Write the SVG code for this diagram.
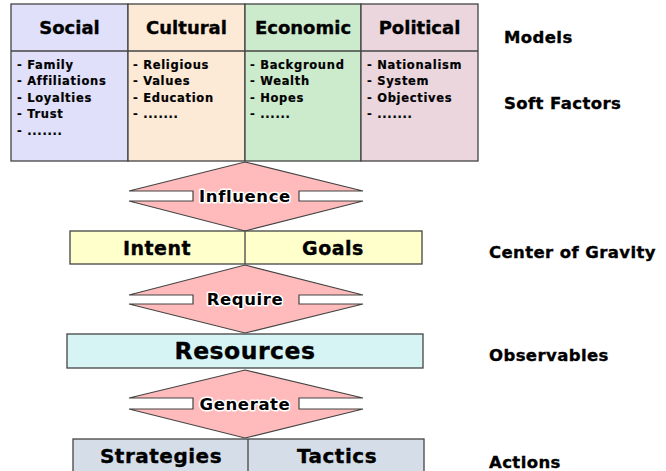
<svg xmlns="http://www.w3.org/2000/svg" width="666" height="471" viewBox="0 0 666 471">
<style>
text{font-family:"DejaVu Sans","Liberation Sans",Arial,sans-serif;font-weight:bold;fill:#000;stroke:#000;stroke-width:0.35}
.hd{font-size:18px;text-anchor:middle}
.li{font-size:11.5px;letter-spacing:0.7px;stroke-width:0.2}
.lab{font-size:16.5px;letter-spacing:0.4px}
.cell{stroke:#444;stroke-width:1.3}
.arrow{fill:#FFBBBB;stroke:#444;stroke-width:1.2;stroke-linejoin:miter}
.at{font-size:16.5px;letter-spacing:0.6px;text-anchor:middle;stroke:#fff;stroke-width:3;paint-order:stroke;stroke-linejoin:round}
.bx{font-size:19px;letter-spacing:0.5px;text-anchor:middle}
</style>
<rect width="666" height="471" fill="#fff"/>
<g id="models">
<g id="social">
<rect class="cell" x="11" y="4" width="117" height="157" fill="#E0E0FA"/>
<line class="cell" x1="11" y1="51" x2="128" y2="51"/>
<text class="hd" x="69.5" y="34">Social</text>
<text class="li" x="17" y="69">- Family</text>
<text class="li" x="17" y="85">-  Affiliations</text>
<text class="li" x="17" y="102">-  Loyalties</text>
<text class="li" x="17" y="118">-  Trust</text>
<text class="li" x="17" y="135">-  .......</text>
</g>
<g id="cultural">
<rect class="cell" x="128" y="4" width="117" height="157" fill="#FCE9D6"/>
<line class="cell" x1="128" y1="51" x2="245" y2="51"/>
<text class="hd" x="186.5" y="34">Cultural</text>
<text class="li" x="133" y="69">-  Religious</text>
<text class="li" x="133" y="85">-  Values</text>
<text class="li" x="133" y="102">-  Education</text>
<text class="li" x="133" y="118">-  .......</text>
</g>
<g id="economic">
<rect class="cell" x="245" y="4" width="116" height="157" fill="#CCEACC"/>
<line class="cell" x1="245" y1="51" x2="361" y2="51"/>
<text class="hd" x="303" y="34">Economic</text>
<text class="li" x="250" y="69">-  Background</text>
<text class="li" x="250" y="85">-  Wealth</text>
<text class="li" x="250" y="102">-  Hopes</text>
<text class="li" x="250" y="118">-  ......</text>
</g>
<g id="political">
<rect class="cell" x="361" y="4" width="117" height="157" fill="#EBD6DE"/>
<line class="cell" x1="361" y1="51" x2="478" y2="51"/>
<text class="hd" x="419.5" y="34">Political</text>
<text class="li" x="367" y="69">-  Nationalism</text>
<text class="li" x="367" y="85">-  System</text>
<text class="li" x="367" y="102">-  Objectives</text>
<text class="li" x="367" y="118">-  .......</text>
</g>
</g>
<g id="connectors">
<path class="arrow" d="M245,162 L363,191 L299,191 L299,201 L363,201 L245,231 L129,201 L193,201 L193,191 L129,191 Z"/>
<text class="at" x="245" y="202">Influence</text>
<path class="arrow" d="M245,265 L363,295 L299,295 L299,304 L363,304 L245,333 L129,304 L193,304 L193,295 L129,295 Z"/>
<text class="at" x="245" y="305">Require</text>
<path class="arrow" d="M245,370 L363,398 L299,398 L299,409 L363,409 L245,438 L129,409 L193,409 L193,398 L129,398 Z"/>
<text class="at" x="245" y="410">Generate</text>
</g>
<g id="intent-goals">
<rect class="cell" x="70" y="231" width="352" height="33" fill="#FFFFCC"/>
<line class="cell" x1="245" y1="231" x2="245" y2="264"/>
<text class="bx" x="157" y="255">Intent</text>
<text class="bx" x="333" y="255">Goals</text>
</g>
<g id="resources">
<rect class="cell" x="67" y="334" width="356" height="34" fill="#D6F4F4"/>
<text class="bx" x="245" y="359" style="font-size:23.5px">Resources</text>
</g>
<g id="strategies-tactics">
<rect class="cell" x="73" y="439" width="351" height="40" fill="#D5DEE8"/>
<line class="cell" x1="248" y1="439" x2="248" y2="479"/>
<text class="bx" x="161" y="463" style="font-size:20px">Strategies</text>
<text class="bx" x="337" y="463" style="font-size:20px">Tactics</text>
</g>
<g id="labels">
<text class="lab" x="504" y="43">Models</text>
<text class="lab" x="504" y="109">Soft Factors</text>
<text class="lab" x="489" y="258">Center of Gravity</text>
<text class="lab" x="489" y="361">Observables</text>
<text class="lab" x="489" y="468">Actions</text>
</g>
</svg>
